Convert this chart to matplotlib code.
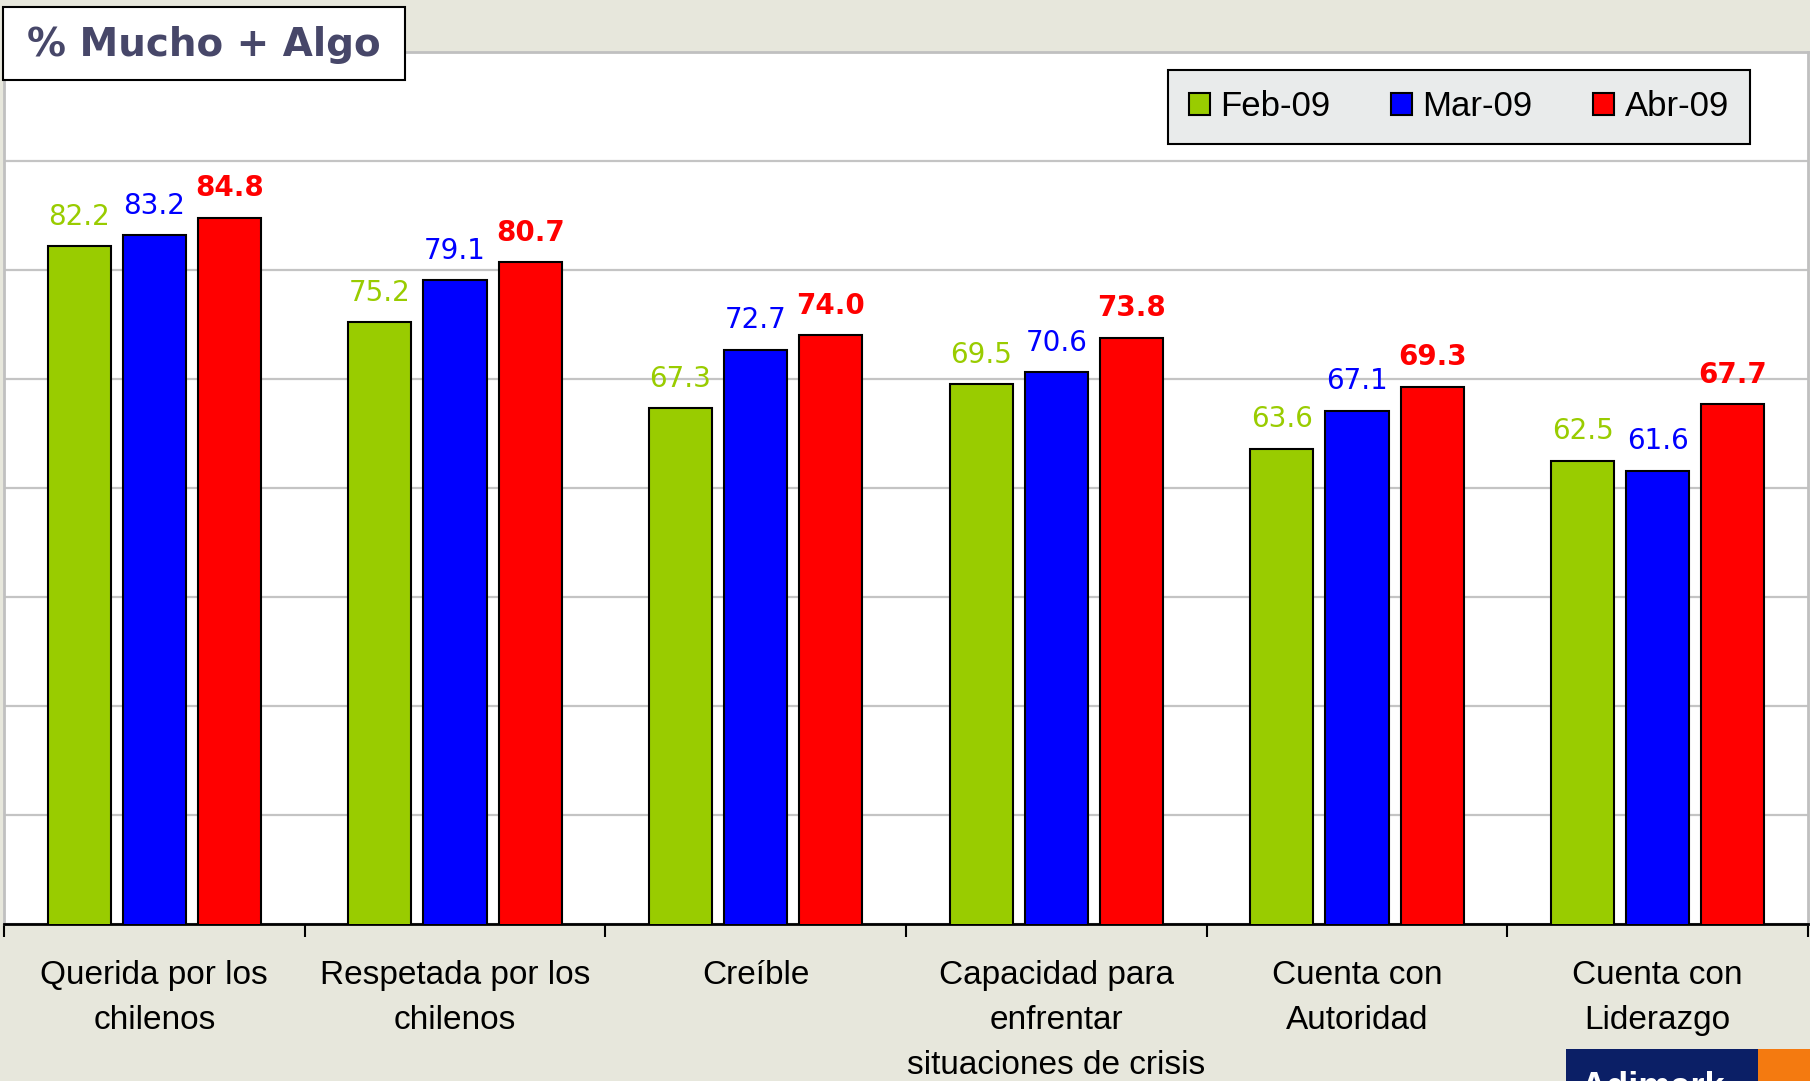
import numpy as np
import matplotlib.pyplot as plt
from matplotlib.patches import Rectangle, Patch

categories = [
    "Querida por los\nchilenos",
    "Respetada por los\nchilenos",
    "Creíble",
    "Capacidad para\nenfrentar\nsituaciones de crisis",
    "Cuenta con\nAutoridad",
    "Cuenta con\nLiderazgo",
]
series_names = ["Feb-09", "Mar-09", "Abr-09"]
feb = [82.2, 75.2, 67.3, 69.5, 63.6, 62.5]
mar = [83.2, 79.1, 72.7, 70.6, 67.1, 61.6]
abr = [84.8, 80.7, 74.0, 73.8, 69.3, 67.7]

colors = ["#99CC00", "#0000FF", "#FF0000"]
bg = "#E7E7DC"
narrow = ["Liberation Sans", "DejaVu Sans"]

W, H = 1810, 1081
fig = plt.figure(figsize=(W / 100, H / 100), dpi=100, facecolor=bg)

# axes placed in pixel terms
left, right, top, bottom = 4, 1808, 52, 924
ax = fig.add_axes([left / W, 1 - bottom / H, (right - left) / W, (bottom - top) / H])
ax.set_facecolor("white")

x = np.arange(len(categories))
width = 0.21
offsets = [-0.25, 0, 0.25]
for vals, off, c, name in zip([feb, mar, abr], offsets, colors, series_names):
    bars = ax.bar(x + off, vals, width, color=c, edgecolor="black", linewidth=1.5, zorder=3)
    bold = name == "Abr-09"
    for b, v in zip(bars, vals):
        ax.annotate(f"{v:.1f}", (b.get_x() + b.get_width() / 2, v),
                    xytext=(0, 11), textcoords="offset points", ha="center", va="bottom",
                    fontsize=20, color=c, fontweight="bold" if bold else "normal",
                    family="DejaVu Sans", zorder=4)

ax.set_xlim(-0.5, len(categories) - 0.5)
ax.set_ylim(20, 100)
ax.set_yticks(np.arange(20, 101, 10))
ax.set_yticklabels([])
ax.tick_params(axis="y", length=0)
ax.grid(axis="y", color="#C4C4C4", linewidth=1.6, zorder=0)

ax.set_xticks(x)
ax.set_xticklabels(categories, fontsize=24, family=narrow, linespacing=1.58)
ax.set_xticks(np.arange(-0.5, len(categories)), minor=True)
ax.tick_params(axis="x", which="major", length=0, pad=26)
ax.tick_params(axis="x", which="minor", length=9, width=1.5, direction="out")

for s in ["left", "top", "right"]:
    ax.spines[s].set_color("#C0C0C0")
    ax.spines[s].set_linewidth(2)
ax.spines["bottom"].set_color("black")
ax.spines["bottom"].set_linewidth(2)

# legend
handles = [Patch(facecolor=c, edgecolor="black", linewidth=1.5) for c in colors]
leg = ax.legend(handles, series_names, ncol=3, loc="center",
                bbox_to_anchor=(1459 / W, 1 - 107 / H),
                bbox_transform=fig.transFigure, frameon=True, fancybox=False,
                facecolor="#E9EBEB", edgecolor="black", framealpha=1,
                prop={"family": narrow, "size": 25}, handlelength=0.6,
                handleheight=0.6, handletextpad=0.3, columnspacing=1.75,
                borderpad=0.6, borderaxespad=0)
leg.get_frame().set_linewidth(1.5)

# title box
fig.patches.append(Rectangle((3 / W, 1 - 80 / H), 402 / W, 73 / H, transform=fig.transFigure,
                             facecolor="white", edgecolor="black", linewidth=1.5, zorder=5))
fig.text(204 / W, 1 - 45 / H, "% Mucho + Algo", ha="center", va="center",
         fontsize=28, fontweight="bold", color="#474769", zorder=6)

# partial logo at bottom right
fig.patches.append(Rectangle((1566 / W, 0), 192 / W, 32 / H, transform=fig.transFigure,
                             facecolor="#0B1F66", edgecolor="none", zorder=5))
fig.patches.append(Rectangle((1758 / W, 0), 52 / W, 32 / H, transform=fig.transFigure,
                             facecolor="#F47A10", edgecolor="none", zorder=5))
fig.text(1580 / W, 1 - 1071 / H, "Adimark", ha="left", va="top", fontsize=26,
         fontweight="bold", color="white", family=narrow, zorder=6)

fig.savefig("out.png", dpi=100, facecolor=bg)
